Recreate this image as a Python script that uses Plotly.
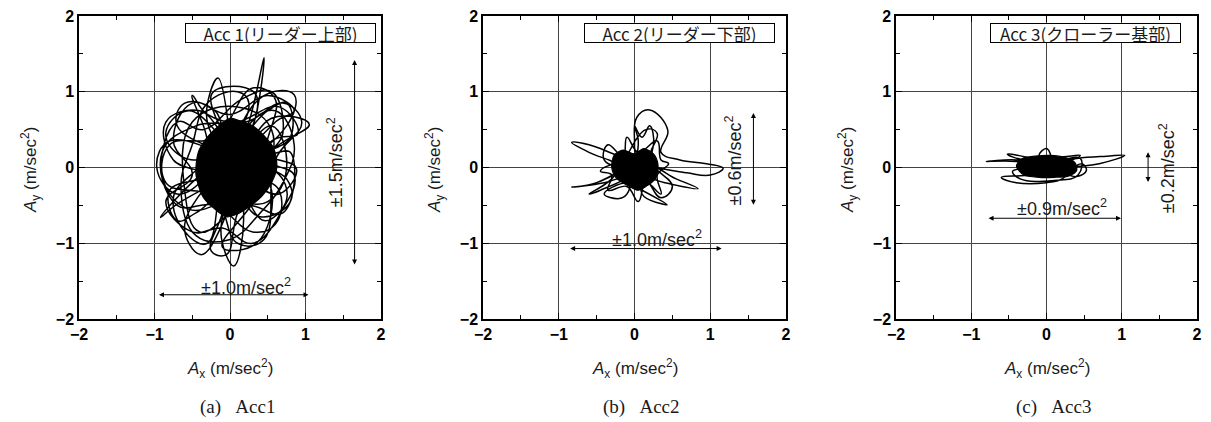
import plotly.graph_objects as go

# ---------------- data ----------------
tick_vals = [-2, -1, 0, 1, 2]
tick_text = ["−2", "−1", "0", "1", "2"]
panel_labels = ["Acc 1(リーダー上部)", "Acc 2(リーダー下部)", "Acc 3(クローラー基部)"]
captions = ["(a)&nbsp;&nbsp;&nbsp;Acc1", "(b)&nbsp;&nbsp;&nbsp;Acc2", "(c)&nbsp;&nbsp;&nbsp;Acc3"]
x_range_text = ["±1.0m/sec<sup>2</sup>", "±1.0m/sec<sup>2</sup>", "±0.9m/sec<sup>2</sup>"]
y_range_text = ["±1.5m/sec<sup>2</sup>", "±0.6m/sec<sup>2</sup>", "±0.2m/sec<sup>2</sup>"]
x_arrow_lo = [-0.96, -0.87, -0.79]
x_arrow_hi = [1.04, 1.15, 0.99]
y_arrow_lo = [-1.30, -0.51, -0.21]
y_arrow_hi = [1.42, 0.72, 0.20]

# dense cores (outline of the saturated black region)
core1_x = [-0.45, -0.42, -0.30, -0.15, 0.00, 0.12, 0.30, 0.45, 0.58, 0.62, 0.55, 0.42, 0.25, 0.08, -0.05, -0.20, -0.35, -0.45]
core1_y = [-0.10, 0.20, 0.40, 0.55, 0.65, 0.62, 0.55, 0.42, 0.25, 0.00, -0.20, -0.38, -0.52, -0.62, -0.65, -0.55, -0.40, -0.10]
core2_x = [-0.30, -0.27, -0.15, 0.00, 0.12, 0.25, 0.31, 0.28, 0.18, 0.05, -0.10, -0.24, -0.30]
core2_y = [0.00, 0.16, 0.23, 0.18, 0.25, 0.18, 0.04, -0.14, -0.23, -0.30, -0.23, -0.14, 0.00]
core3_x = [-0.40, -0.32, -0.15, 0.05, 0.25, 0.38, 0.40, 0.30, 0.10, -0.10, -0.30, -0.40]
core3_y = [0.02, 0.12, 0.15, 0.16, 0.13, 0.06, -0.04, -0.11, -0.13, -0.13, -0.10, 0.02]

# orbit traces
orbit1_x = [0.0, 0.25, 0.45, 0.32, 0.1, -0.3, -0.16, -0.02, 0.0, 0.55, 1.05, 0.65, 0.2,
            -0.12, 0.05, 0.18, 0.05, -0.6, -0.39, -0.15, 0.0, -0.65, -0.92, -0.45, -0.1,
            -0.8, -0.97, -0.7, -0.2, 0.45, 0.85, 0.75, 0.2, -0.25, 0.0, 0.35, 0.1,
            -0.55, -0.85, -0.65, -0.2, 0.65, 0.88, 0.65, 0.2, 0.45, 0.75, 0.6, 0.0,
            -0.3, -0.55, -0.75, -0.3, -0.5, -0.3, 0.2, 0.7, 0.95, 0.6, 0.45, 0.1, -0.2,
            -0.85, -0.8, -0.2, 0.3, 0.6, 0.5, 0.8, 0.7, 0.2, -0.4, -0.6, -0.5, 0.1, 0.55,
            0.4, -0.1, 0.35, 0.55, 0.3,
            -0.7, -0.6, -0.2, 0.0, 0.5, 0.75, 0.8, 0.35, 0.75, 0.8, 0.4, 0.0,
            -0.45, -0.7, -0.8, -0.3, -0.75, -0.85, -0.4, 0.0, 0.25, 0.1, -0.3, -0.5,
            -0.65, -0.45, 0.0, 0.4, 0.7, 0.85, 0.6, 0.2, -0.1, -0.25, -0.05, 0.1,
            0.55, 0.9, 0.65, 0.1, -0.45, -0.9, -0.7, -0.2, 0.3, 0.6, 0.65, 0.2,
            0.6, 0.85, 0.5, 0.0, -0.5, -0.75, -0.5, -0.85, -0.5, -0.1,
            0.3, 0.7, 0.85, 0.5, 0.7, 0.55, 0.15, -0.35, -0.7, -0.9, -0.55, 0.0,
            0.5, 0.75, 0.55, 0.0]
orbit1_y = [0.0, 0.6, 1.45, 0.6, 0.1, 0.6, 1.18, 0.55, -0.1, 0.65, 0.57, 0.3, -0.1,
            -0.8, -1.3, -0.7, 0.0, -0.75, -1.15, -0.85, -0.2, -0.45, -0.66, -0.15, 0.1,
            0.35, 0.0, -0.35, 0.0, 0.95, 0.96, 0.55, 0.2, 0.95, 1.07, 0.95, 0.3,
            0.75, 0.46, 0.15, 0.1, 0.1, -0.02, -0.35, -0.2, -0.7, -0.42, -0.05, 0.0,
            -1.0, -0.9, -0.4, 0.2, 0.95, 0.7, 0.6, 0.85, 0.6, 0.1, -0.95, -1.0, -0.4,
            -0.2, 0.3, 0.4, 1.05, 0.9, 0.2, 0.2, -0.6, -0.5, -0.85, -0.3, 0.6, 0.8, 0.5,
            -0.3, -1.05, -1.0, -0.3, 0.0,
            0.55, 0.85, 0.75, 0.3, 0.75, 0.85, 0.4, 0.1, -0.15, -0.45, -0.65, -0.3,
            -0.6, -0.7, -0.3, -0.1, 0.1, 0.6, 0.75, 0.4, 0.85, 1.0, 0.85, 0.3,
            -0.25, -0.9, -0.95, -0.6, -0.2, 0.3, 0.75, 0.5, -0.6, -1.1, -1.15, -0.6,
            0.35, 0.45, 0.8, 0.6, 0.55, 0.2, -0.5, -0.5, -0.85, -0.75, -0.3, 0.0,
            0.6, 0.75, 0.95, 0.7, 0.85, 0.35, -0.1, -0.45, -0.85, -0.8,
            -1.0, -0.55, -0.1, 0.1, 0.45, 1.0, 0.9, 0.5, 0.6, -0.1, -0.55, -0.45,
            -0.45, 0.0, 0.55, 0.0]

orbit2_x = [0.0, 0.0, 0.03, 0.2, 0.44, 0.35, 0.6, 0.95, 1.17, 1.0, 0.69, 0.3,
            -0.2, -0.6, -0.83, -0.6, -0.2, -0.5, -0.83, -0.4, 0.0, 0.4, 0.84, 0.55, 0.2,
            0.1, 0.43, 0.1, -0.1, -0.4, -0.2, -0.1, 0.0, 0.05, 0.0, 0.1, 0.2, 0.25, 0.1,
            -0.45, -0.6, -0.3, 0.15, 0.3, 0.2, 0.5, 0.35, 0.1,
            -0.4, -0.35, -0.15, -0.1, 0.05, 0.3, 0.35, 0.45, 0.3, 0.35, 0.15, 0.05,
            -0.1, -0.35, -0.3, -0.45, -0.25, 0.0]
orbit2_y = [0.0, 0.3, 0.66, 0.76, 0.49, 0.2, 0.1, 0.05, -0.01, -0.1, -0.07, 0.0,
            0.15, 0.3, 0.33, 0.2, 0.0, -0.2, -0.26, -0.2, -0.1, -0.2, -0.28, -0.15, 0.0,
            -0.35, -0.49, -0.3, -0.2, -0.35, -0.41, -0.35, 0.0, 0.35, 0.55, 0.4, 0.55, 0.3, 0.0,
            -0.3, -0.35, -0.15, 0.5, 0.45, 0.1, -0.25, -0.4, -0.1,
            0.1, 0.3, 0.15, 0.4, 0.2, 0.35, 0.1, 0.05, -0.1, -0.35, -0.2, -0.45,
            -0.25, -0.3, -0.1, -0.05, 0.05, 0.0]

orbit3_x = [0.0, -0.4, -0.8, -0.4, 0.0, 0.4, 0.8, 1.04, 0.7, 0.3, -0.2, -0.6, -0.4, 0.0,
            0.21, 0.3, 0.47, 0.53, 0.4, 0.2, -0.1, 0.0, 0.05, -0.52, -0.3, 0.3, 0.45, 0.3, 0.0,
            -0.45, -0.35, 0.1, 0.42, 0.45, 0.1]
orbit3_y = [0.0, 0.08, 0.08, 0.1, 0.05, 0.12, 0.15, 0.16, 0.05, 0.0, -0.1, -0.13, -0.2, -0.2,
            -0.15, -0.05, 0.05, -0.04, -0.12, -0.05, 0.15, 0.25, 0.12, 0.18, 0.1, 0.15, 0.16, 0.08, 0.0,
            -0.05, -0.15, -0.17, -0.1, 0.12, 0.05]

cores = [(core1_x, core1_y), (core2_x, core2_y), (core3_x, core3_y)]
orbits = [(orbit1_x, orbit1_y), (orbit2_x, orbit2_y), (orbit3_x, orbit3_y)]

# ---------------- layout helpers ----------------
W, H = 1211, 422
px_left = [79, 483, 896]
px_right = [381, 786, 1197]
py_top, py_bot = 16, 319

def px(v):
    return v / W

def py(v):
    return 1 - v / H

fig = go.Figure()
TXT = "#1a1a1a"
SANS = "Liberation Sans, Arial, Noto Sans CJK JP, sans-serif"
SERIF = "Liberation Serif, Times New Roman, serif"

for i in range(3):
    suf = "" if i == 0 else str(i + 1)
    xa, ya = "x" + suf, "y" + suf
    cx, cy = cores[i]
    ox, oy = orbits[i]
    fig.add_trace(go.Scatter(x=cx, y=cy, xaxis=xa, yaxis=ya, mode="lines",
                             line=dict(color="black", width=1.2, shape="spline", smoothing=0.8),
                             fill="toself", fillcolor="black", showlegend=False, hoverinfo="skip"))
    fig.add_trace(go.Scatter(x=ox, y=oy, xaxis=xa, yaxis=ya, mode="lines",
                             line=dict(color="black", width=1.5, shape="spline", smoothing=1.2),
                             showlegend=False, hoverinfo="skip"))
    axis_common = dict(range=[-2, 2], tickvals=tick_vals, ticktext=tick_text,
                       ticks="inside", ticklen=6, tickwidth=1, tickcolor="black",
                       showline=True, linecolor="black", linewidth=1.5, mirror="ticks",
                       showgrid=True, gridcolor="#444444", gridwidth=1,
                       zeroline=False, fixedrange=True,
                       minor=dict(dtick=0.5, ticks="inside", ticklen=4, tickcolor="black", showgrid=False),
                       tickfont=dict(family=SANS, size=16, color="#000000", weight="bold"), automargin=False)
    fig.layout["xaxis" + suf] = go.layout.XAxis(domain=[px(px_left[i]), px(px_right[i])],
                                                anchor=ya, **axis_common)
    fig.layout["yaxis" + suf] = go.layout.YAxis(domain=[py(py_bot), py(py_top)],
                                                anchor=xa, **axis_common)

    center = (px_left[i] + px_right[i]) / 2
    # axis titles
    fig.add_annotation(xref="paper", yref="paper", x=px(center), y=py(368),
                       xanchor="center", yanchor="middle",
                       text="<i>A</i><sub>x</sub> (m/sec<sup>2</sup>)", showarrow=False,
                       font=dict(family=SANS, size=17, color=TXT))
    fig.add_annotation(xref="paper", yref="paper", x=px(px_left[i] - 49), y=py(170),
                       xanchor="center", yanchor="middle",
                       text="<i>A</i><sub>y</sub> (m/sec<sup>2</sup>)", showarrow=False, textangle=-90,
                       font=dict(family=SANS, size=17, color=TXT))
    # caption
    fig.add_annotation(xref="paper", yref="paper", x=px(center + 7), y=py(407),
                       xanchor="center", yanchor="middle",
                       text=captions[i], showarrow=False,
                       font=dict(family=SERIF, size=19, color=TXT))
    # label box
    box_cx = [0.67, 0.59, 0.52][i]
    fig.add_annotation(xref=xa, yref=ya, x=box_cx, y=1.78, text=panel_labels[i], showarrow=False,
                       xanchor="center", yanchor="middle",
                       width=189, height=18, bordercolor="black", borderwidth=1, borderpad=0,
                       bgcolor="white", font=dict(family="Noto Sans CJK JP, sans-serif", size=17, color=TXT))
    # horizontal double arrow
    hy = [-1.68, -1.07, -0.67][i]
    fig.add_annotation(xref=xa, yref=ya, axref=xa, ayref=ya, x=x_arrow_hi[i], y=hy,
                       ax=x_arrow_lo[i], ay=hy, text="", showarrow=True, arrowside="end+start",
                       arrowhead=2, arrowsize=1, arrowwidth=1, arrowcolor="black")
    htx = [0.21, 0.30, 0.21][i]
    hty = [-1.57, -0.94, -0.53][i]
    fig.add_annotation(xref=xa, yref=ya, x=htx, y=hty, text=x_range_text[i], showarrow=False,
                       xanchor="center", yanchor="middle",
                       font=dict(family=SANS, size=18, color=TXT))
    # vertical double arrow
    vx = [1.65, 1.57, 1.35][i]
    fig.add_annotation(xref=xa, yref=ya, axref=xa, ayref=ya, x=vx, y=y_arrow_hi[i],
                       ax=vx, ay=y_arrow_lo[i], text="", showarrow=True, arrowside="end+start",
                       arrowhead=2, arrowsize=1, arrowwidth=1, arrowcolor="black")
    vtx = [1.39, 1.31, 1.60][i]
    vty = [0.07, 0.09, -0.01][i]
    fig.add_annotation(xref=xa, yref=ya, x=vtx, y=vty, text=y_range_text[i], showarrow=False,
                       xanchor="center", yanchor="middle",
                       textangle=-90, font=dict(family=SANS, size=18, color=TXT))

fig.update_layout(width=W, height=H, margin=dict(l=0, r=0, t=0, b=0),
                  paper_bgcolor="white", plot_bgcolor="white", showlegend=False)

fig.write_html("out.html")
